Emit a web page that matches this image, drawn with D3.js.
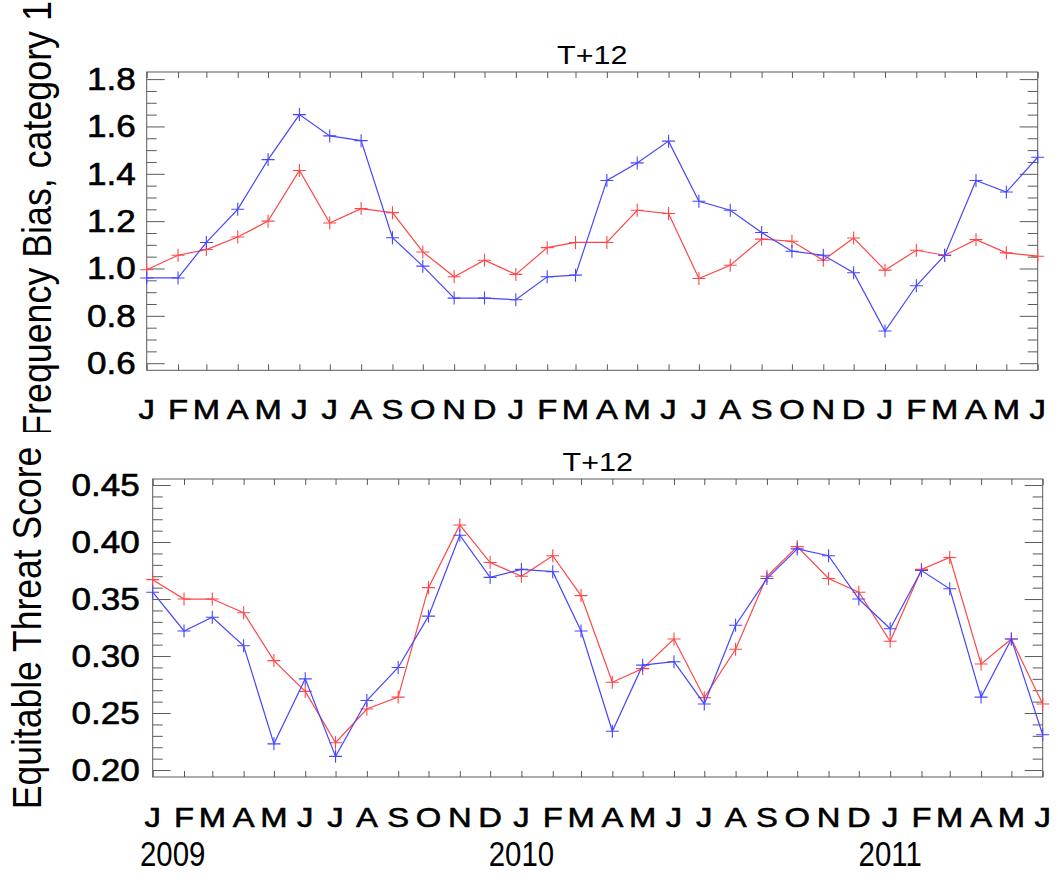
<!DOCTYPE html>
<html><head><meta charset="utf-8">
<script src="https://cdn.jsdelivr.net/npm/d3@7"></script>
<style>body{margin:0;background:#fff} svg{display:block} text{font-family:"Liberation Sans",Arial,Helvetica,sans-serif;fill:#000}
.thick{stroke:#000;stroke-width:0.6px}</style>
</head><body><svg id="c" width="1058" height="892"></svg>
<script>
// ---- data ----
const months = ["2009-01","2009-02","2009-03","2009-04","2009-05","2009-06","2009-07","2009-08","2009-09","2009-10","2009-11","2009-12",
                "2010-01","2010-02","2010-03","2010-04","2010-05","2010-06","2010-07","2010-08","2010-09","2010-10","2010-11","2010-12",
                "2011-01","2011-02","2011-03","2011-04","2011-05","2011-06"];
const monthLabels = ["J","F","M","A","M","J","J","A","S","O","N","D",
                     "J","F","M","A","M","J","J","A","S","O","N","D",
                     "J","F","M","A","M","J"];
const biasBlue = [0.96,0.96,1.11,1.25,1.46,1.65,1.56,1.54,1.13,1.01,0.875,0.875,
                  0.868,0.965,0.972,1.372,1.446,1.538,1.284,1.246,1.152,1.073,1.056,0.982,
                  0.736,0.927,1.056,1.372,1.323,1.47];
const biasRed  = [0.995,1.056,1.08,1.133,1.2,1.414,1.192,1.253,1.236,1.07,0.965,1.035,
                  0.975,1.088,1.11,1.11,1.246,1.232,0.958,1.014,1.124,1.115,1.035,1.129,
                  0.993,1.077,1.056,1.122,1.066,1.052];
const etsBlue  = [0.356,0.322,0.334,0.309,0.223,0.28,0.212,0.261,0.29,0.335,0.406,0.369,
                  0.376,0.374,0.322,0.234,0.292,0.295,0.258,0.327,0.368,0.394,0.388,0.35,
                  0.324,0.375,0.359,0.264,0.315,0.231];
const etsRed   = [0.367,0.35,0.35,0.338,0.296,0.269,0.224,0.2535,0.264,0.36,0.415,0.382,
                  0.37,0.388,0.353,0.277,0.289,0.315,0.2635,0.306,0.37,0.396,0.368,0.356,
                  0.313,0.376,0.3865,0.293,0.315,0.258];
const biasTicks = [0.6,0.8,1.0,1.2,1.4,1.6,1.8];
const etsTicks  = [0.20,0.25,0.30,0.35,0.40,0.45];
const panelTitles = ["T+12","T+12"];
const yTitles = ["Frequency Bias, category 1","Equitable Threat Score"];
const yearLabels = ["2009","2010","2011"];

// ---- drawing ----
const svg = d3.select("#c");
const parse = d3.timeParse("%Y-%m");
const dates = months.map(parse);
const blueC = "rgb(70,70,255)", redC = "rgb(255,70,70)", axC = "#5a5a5a";
const SX = 1.15;

svg.append("defs").append("clipPath").attr("id","ytclip")
  .append("rect").attr("x",0).attr("y",0).attr("width",100).attr("height",432);

function txt(g, s, x, y, size, anchor, sx, rot, cls) {
  return g.append("text")
    .attr("class", cls || null)
    .attr("transform", `translate(${x},${y}) scale(${sx},1)` + (rot ? ` rotate(${rot})` : ""))
    .attr("text-anchor", anchor).style("font-size", size + "px").text(s);
}

const panels = [
  {left:146.7, right:1037.7, top:72, bottom:370.3, domain:[0.57,1.83], majors:biasTicks, minorCount:25, fmt:d3.format(".1f"),
   series:[biasRed, biasBlue], title:panelTitles[0], titleY:64, ytitle:yTitles[0], ytX:50.5, ytY:219, ytSize:35.8, labelPad:11, monthY:418.5, clip:true},
  {left:152.7, right:1042.7, top:479, bottom:777, domain:[0.1939,0.4553], majors:etsTicks, minorCount:26, fmt:d3.format(".2f"),
   series:[etsRed, etsBlue], title:panelTitles[1], titleY:471, ytitle:yTitles[1], ytX:40.5, ytY:628, ytSize:35.5, labelPad:13, monthY:827, clip:false}
];

let lastX;
panels.forEach(p => {
  const x = d3.scaleTime().domain([dates[0], dates[dates.length-1]]).range([p.left, p.right]);
  const y = d3.scaleLinear().domain(p.domain).range([p.bottom, p.top]);
  lastX = x;
  const g = svg.append("g");
  const minors = d3.ticks(p.domain[0], p.domain[1], p.minorCount)
      .filter(v => !p.majors.some(m => Math.abs(m - v) < 1e-6));

  const styleAxis = a => { a.select(".domain").remove(); a.selectAll("line").attr("stroke", axC).attr("stroke-width", 1); a.selectAll("text").remove(); };
  g.append("g").attr("transform",`translate(${p.left},0)`).call(d3.axisLeft(y).tickValues(p.majors).tickSize(-18).tickSizeOuter(0)).call(styleAxis);
  g.append("g").attr("transform",`translate(${p.left},0)`).call(d3.axisLeft(y).tickValues(minors).tickSize(-10).tickSizeOuter(0)).call(styleAxis);
  g.append("g").attr("transform",`translate(${p.right},0)`).call(d3.axisRight(y).tickValues(p.majors).tickSize(-18).tickSizeOuter(0)).call(styleAxis);
  g.append("g").attr("transform",`translate(${p.right},0)`).call(d3.axisRight(y).tickValues(minors).tickSize(-10).tickSizeOuter(0)).call(styleAxis);
  g.append("g").attr("transform",`translate(0,${p.bottom})`).call(d3.axisBottom(x).tickValues(dates).tickSize(-6).tickSizeOuter(0)).call(styleAxis);
  g.append("g").attr("transform",`translate(0,${p.top})`).call(d3.axisTop(x).tickValues(dates).tickSize(-6).tickSizeOuter(0)).call(styleAxis);
  g.append("rect").attr("x",p.left).attr("y",p.top).attr("width",p.right-p.left).attr("height",p.bottom-p.top)
    .attr("fill","none").attr("stroke",axC).attr("stroke-width",1);

  p.majors.forEach(v => txt(g, p.fmt(v), p.left - p.labelPad, y(v) + 11, 30.5, "end", SX, 0, "thick"));
  dates.forEach((d,i) => txt(g, monthLabels[i], x(d), p.monthY, 28.5, "middle", SX, 0, "thick"));
  txt(g, p.title, (p.left+p.right)/2, p.titleY, 26.5, "middle", SX);
  const tg = g.append("g").attr("clip-path", p.clip ? "url(#ytclip)" : null);
  txt(tg, p.ytitle, p.ytX, p.ytY, p.ytSize, "middle", SX, -90);

  const line = d3.line().x((d,i) => x(dates[i])).y(d => y(d));
  const colors = [redC, blueC];
  p.series.forEach((s, k) => {
    g.append("path").attr("d", line(s)).attr("fill","none").attr("stroke",colors[k]).attr("stroke-width",1.2);
    const m = g.append("g");
    s.forEach((v,i) => {
      const cx = x(dates[i]), cy = y(v);
      m.append("path").attr("d", `M${cx-6.5},${cy}H${cx+6.5}M${cx},${cy-6.5}V${cy+6.5}`)
        .attr("stroke", colors[k]).attr("stroke-width",1.1).attr("fill","none");
    });
  });
});

const yg = svg.append("g");
yearLabels.forEach(yr => {
  const xp = Math.max(lastX(parse(yr + "-01")), panels[1].left + 20);
  txt(yg, yr, xp, 866, 35, "middle", 0.84);
});
</script></body></html>
